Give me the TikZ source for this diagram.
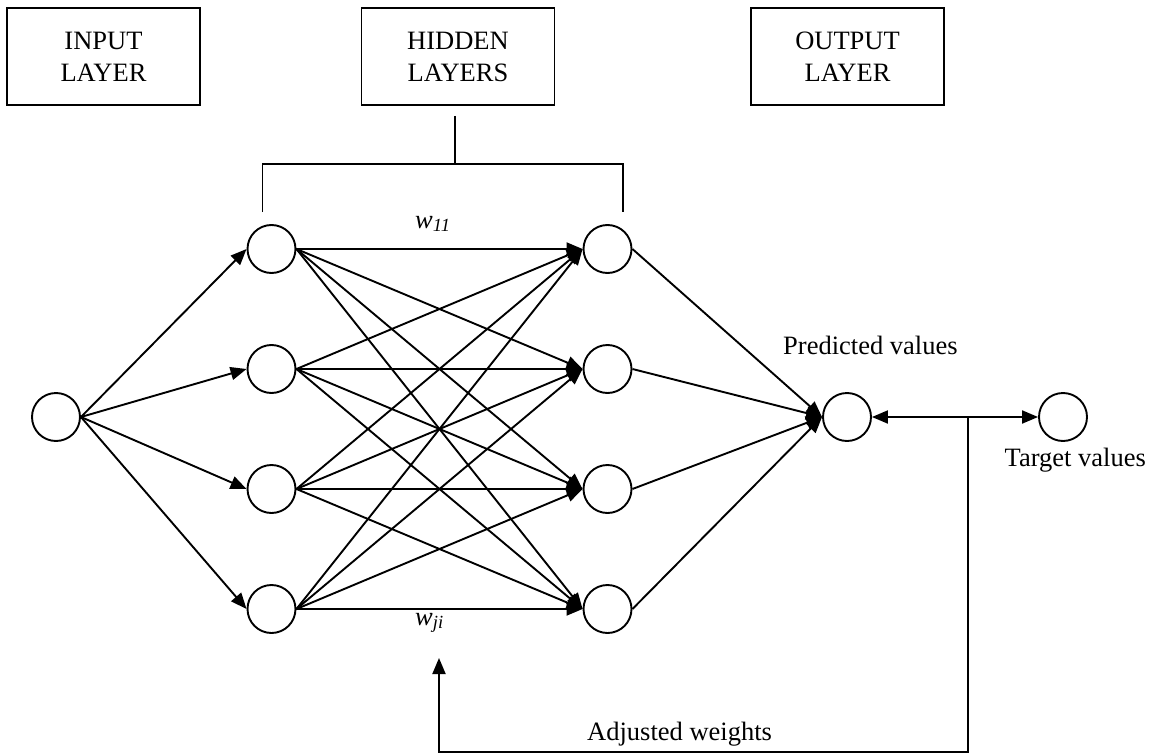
\documentclass[tikz,border=0pt]{standalone}
\usepackage{fontspec}
\setmainfont{Liberation Serif}
\usetikzlibrary{arrows.meta}
\begin{document}
\begin{tikzpicture}[x=1pt,y=-1pt,
  every node/.style={font=\fontsize{26.5}{32.5}\selectfont},
  neuron/.style={circle,draw,line width=1.9pt,minimum size=48pt,inner sep=0pt},
  layerbox/.style={draw,line width=1.9pt,minimum width=193pt,minimum height=97pt,align=center,inner sep=0pt},
  conn/.style={line width=1.9pt,-{Triangle[length=16pt,width=13pt]}},
  plain/.style={line width=1.9pt},
  lbl/.style={inner sep=0pt}
]
\useasboundingbox (0,0) rectangle (1150,754);

% layer boxes
\node[layerbox] (inbox)  at (103.5,56.8) {INPUT\\LAYER};
\node[layerbox] (hidbox) at (458,56.8)   {HIDDEN\\LAYERS};
\node[layerbox] (outbox) at (847.5,56.8) {OUTPUT\\LAYER};

% bracket
\coordinate (bt)  at (455,116);
\coordinate (bm)  at (455,164);
\coordinate (bl)  at (262.5,164);
\coordinate (br)  at (623,164);
\coordinate (bld) at (262.5,212);
\coordinate (brd) at (623,212);
\draw[plain] (bt) -- (bm);
\draw[plain] (bld) -- (bl) -- (br) -- (brd);

% neurons
\node[neuron] (in) at (56,417) {};
\foreach \i/\y in {1/249,2/369,3/489,4/609}{
  \node[neuron] (a\i) at (271.5,\y) {};
  \node[neuron] (b\i) at (607.5,\y) {};
}
\node[neuron] (out) at (847,417) {};
\node[neuron] (tgt) at (1063,417) {};

% connections
\foreach \i in {1,...,4}{
  \draw[conn] (in.east) -- (a\i.west);
  \draw[conn] (b\i.east) -- (out.west);
  \foreach \j in {1,...,4}{
    \draw[conn] (a\i.east) -- (b\j.west);
  }
}

% feedback
\coordinate (j)  at (968,417);
\coordinate (jb) at (968,752);
\coordinate (fb) at (439,658);
\draw[conn] (j) -- (out.east);
\draw[conn] (j) -- (tgt.west);
\draw[conn] (j) -- (jb) -| (fb);

% labels
\node[lbl,anchor=base west] (w11)  at (415,228) {\itshape w\textsubscript{11}};
\node[lbl,anchor=base west] (wji)  at (415,625) {\itshape w\textsubscript{ji}};
\node[lbl,anchor=base west] (pred) at (783,354) {Predicted values};
\node[lbl,anchor=base east] (targ) at (1146,466) {Target values};
\node[lbl,anchor=base west] (adj)  at (587,740) {Adjusted weights};
\end{tikzpicture}
\end{document}
